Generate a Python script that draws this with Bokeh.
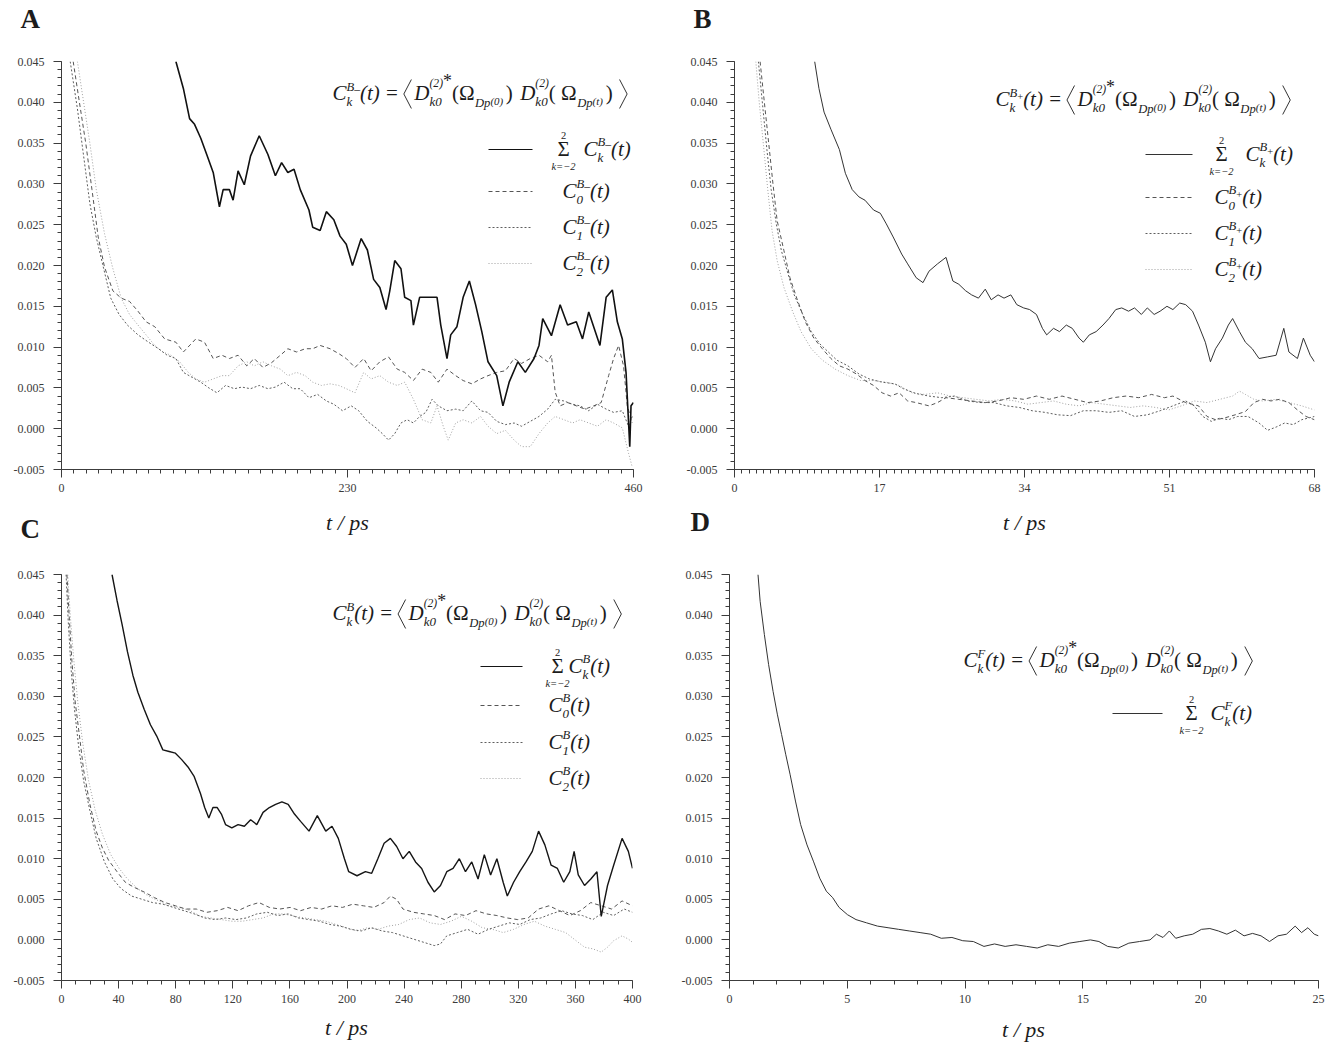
from bokeh.plotting import figure
from bokeh.models import FixedTicker, PrintfTickFormatter, Label, Range1d
from bokeh.layouts import column, row
from bokeh.embed import file_html
from bokeh.resources import INLINE

SERIF = "Liberation Serif"
INK = "#1c1c1c"
PAGE_W, PAGE_H = 1328, 1045

# ---------------------------------------------------------------------------
# Correlation functions; t in ps, C(t) in units of 1e-3
# ---------------------------------------------------------------------------
# Panel A  (B- frame, 460 ps)
a_sum_t = [92, 98, 103, 107, 112, 117, 122, 127, 130, 135, 138, 142, 147, 152, 159, 166, 172, 177, 182, 187,
           192, 199, 202, 208, 213, 219, 224, 229, 234, 241, 246, 251, 256, 261, 264, 268, 273, 276, 281, 283,
           288, 295, 302, 305, 310, 313, 318, 323, 328, 333, 338, 343, 350, 355, 360, 367, 373, 380, 384, 387,
           394, 401, 407, 414, 419, 424, 433, 438, 443, 447, 451, 454, 457, 458, 460]
a_sum_c = [45.0, 41.7, 38.0, 37.3, 35.6, 33.5, 31.4, 27.2, 29.3, 29.3, 28.0, 31.6, 29.9, 33.4, 35.9, 33.6, 31.0, 32.6, 31.4, 31.8,
           29.3, 26.8, 24.7, 24.3, 26.6, 25.6, 23.6, 22.6, 20.0, 23.3, 21.9, 18.3, 17.3, 14.6, 16.9, 20.6, 19.6, 16.1, 15.7, 12.7,
           16.1, 16.1, 16.1, 12.7, 8.6, 11.5, 12.5, 16.1, 18.1, 15.2, 11.9, 8.2, 6.5, 2.8, 5.7, 8.2, 6.9, 8.6, 10.2, 13.5,
           11.4, 15.2, 12.7, 13.1, 11.0, 14.3, 10.2, 16.1, 17.0, 13.1, 11.0, 6.9, -2.2, 2.8, 3.2]
a_c0_t = [9.4, 14.4, 19.5, 24.5, 29.5, 34.6, 41.3, 48, 54.7, 61.5, 68, 75, 83, 92, 98, 108, 115, 122, 129, 135,
          142, 149, 155, 162, 169, 176, 182, 189, 196, 202, 208, 216, 223, 229, 236, 243, 249, 256, 263, 270,
          276, 283, 290, 297, 303, 310, 317, 323, 330, 337, 343, 350, 357, 364, 370, 377, 384, 391, 394, 397,
          401, 407, 414, 421, 428, 434, 440, 444, 448, 452, 455, 459]
a_c0_c = [45, 40, 35, 29.3, 23.5, 19.8, 16.9, 16.0, 15.6, 14.4, 13.1, 12.5, 11.0, 10.6, 9.4, 11.0, 10.6, 8.6, 9.0, 8.6,
          9.0, 7.7, 8.6, 7.5, 8.1, 9.0, 9.8, 9.4, 9.8, 9.8, 10.2, 9.8, 9.2, 8.6, 7.5, 8.6, 7.1, 8.2, 8.8, 7.3,
          6.9, 5.9, 7.3, 6.9, 5.7, 7.3, 6.5, 5.9, 5.5, 6.1, 6.5, 6.9, 7.1, 8.6, 8.0, 8.6, 9.0, 8.2, 9.0, 4.5,
          2.8, 3.2, 2.8, 2.4, 2.8, 3.2, 6.5, 8.6, 10.2, 7.7, 2.8, 0.7]
a_c1_t = [7, 12.8, 17.8, 22.8, 27.9, 33, 39.6, 46.3, 53, 61.5, 70, 78, 85, 92, 98, 105, 112, 118.5, 125, 132,
          139, 145, 152, 159, 166, 172, 179, 186, 192, 199, 206, 213, 219, 226, 233, 239, 246, 253, 258, 263,
          268, 273, 278, 283, 288, 293, 298, 303, 310, 317, 323, 330, 337, 343, 350, 357, 364, 370, 377, 384,
          391, 397, 404, 411, 417, 424, 431, 438, 444, 451, 456, 459]
a_c1_c = [45, 39.2, 33.4, 27.6, 23.5, 20.2, 16.0, 14.0, 12.7, 11.5, 10.6, 9.8, 9.0, 8.6, 6.9, 6.3, 5.7, 5.0, 4.4, 5.3,
          4.9, 5.1, 4.9, 5.3, 4.9, 5.1, 5.7, 4.9, 4.9, 3.8, 4.2, 3.4, 3.0, 2.2, 2.8, 2.2, 0.9, 0.1, -0.6, -1.4,
          -0.6, 0.7, 1.1, 0.7, 1.5, 2.0, 3.6, 2.8, 2.2, 2.4, 2.2, 3.4, 2.2, 2.0, 0.9, 0.5, 0.7, 0.3, 0.9, 1.5,
          2.4, 3.6, 3.4, 3.0, 2.8, 2.2, 3.0, 2.4, 2.0, 2.2, 0.3, 1.5]
a_c2_t = [12.8, 17.8, 22.8, 28, 34.6, 41, 48, 54.7, 61.5, 68, 75, 81.6, 88, 95, 102, 108, 115, 122, 129, 135,
          142, 149, 155, 162, 169, 176, 182, 189, 196, 202, 209, 216, 223, 229, 236, 243, 249, 256, 263, 270,
          276, 283, 290, 297, 302, 307, 311, 317, 323, 330, 337, 343, 350, 357, 364, 370, 377, 384, 391, 397,
          404, 411, 417, 424, 431, 438, 444, 451, 456, 459]
a_c2_c = [45, 40, 35, 29.3, 23.9, 19.8, 16.0, 14.0, 12.7, 11.5, 10.2, 9.4, 9.0, 8.2, 6.9, 6.1, 5.7, 6.1, 6.5, 6.5,
          7.7, 8.2, 7.7, 8.2, 7.7, 7.3, 6.5, 6.9, 6.5, 5.7, 5.3, 5.5, 5.3, 4.9, 4.4, 6.9, 6.1, 6.5, 5.7, 5.3,
          5.7, 3.6, 1.1, 0.7, 2.8, 0.3, -1.4, 0.7, 1.1, 0.7, 1.5, 0.3, -0.6, -0.2, -1.4, -2.2, -2.2, -0.6, 0.7, 1.5,
          1.1, 0.7, 1.1, 0.7, 0.3, 1.1, 0.7, 0.1, -3.0, -4.7]

# Panel B  (B+ frame, 68 ps)
b_sum_t = [9.4, 9.9, 10.5, 11.3, 12.3, 13.0, 13.8, 14.6, 15.3, 16.3, 17.1, 17.8, 18.6, 19.6, 20.3, 21.3, 22.1, 22.8, 23.8, 24.8,
           25.6, 26.3, 27.1, 27.8, 28.6, 29.4, 30.1, 30.9, 31.6, 32.4, 33.1, 33.9, 34.6, 35.4, 36.1, 36.6, 37.4, 38.1, 38.9, 39.6,
           40.4, 40.9, 41.6, 42.4, 43.2, 43.9, 44.7, 45.4, 46.2, 46.9, 47.7, 48.4, 49.2, 49.9, 50.7, 51.4, 52.2, 52.9, 53.7, 54.4,
           55.2, 55.8, 56.4, 57.2, 57.9, 58.4, 59.2, 59.9, 60.7, 61.5, 62.5, 63.5, 64.4, 65.0, 66.0, 66.7, 67.5, 68]
b_sum_c = [45, 41.7, 38.8, 36.7, 34.2, 31.3, 29.3, 28.4, 28.0, 26.8, 26.4, 25.1, 23.5, 21.4, 20.2, 18.5, 17.9, 19.3, 20.2, 21.0,
           18.1, 17.7, 16.9, 16.4, 16.0, 17.1, 15.8, 16.4, 16.0, 16.4, 15.2, 14.8, 14.6, 14.0, 12.3, 11.5, 12.3, 11.9, 12.7, 12.3,
           11.1, 10.6, 11.5, 11.9, 12.7, 13.5, 14.6, 14.8, 14.4, 14.8, 14.0, 14.8, 14.0, 14.4, 15.0, 14.6, 15.4, 15.2, 14.4, 12.7,
           10.6, 8.2, 9.8, 11.1, 12.7, 13.5, 11.9, 10.6, 9.8, 8.6, 8.8, 9.0, 12.3, 9.4, 8.6, 11.1, 9.0, 8.2]
b_c0_t = [3.0, 3.5, 4.0, 4.5, 5.0, 5.8, 6.5, 7.3, 8.3, 9.3, 10.3, 11.3, 12.3, 13.3, 14.3, 15.3, 16.3, 17.3, 18.3, 19.3,
          20.3, 21.3, 22.8, 23.8, 24.8, 26.3, 27.8, 29.4, 30.9, 32.4, 33.9, 35.4, 36.9, 38.4, 39.9, 41.4, 42.9, 44.4, 45.9, 47.4,
          48.9, 50.4, 51.4, 52.9, 54.4, 55.4, 56.4, 57.4, 58.7, 59.9, 60.9, 61.9, 62.9, 63.9, 65.0, 66.0, 67.0, 68]
b_c0_c = [45, 40, 35.1, 30.1, 25.5, 21.8, 18.5, 16.0, 13.1, 11.1, 9.8, 8.6, 7.7, 7.3, 6.7, 5.9, 5.3, 4.4, 4.0, 4.4,
          3.4, 3.2, 2.8, 3.2, 3.8, 3.6, 3.4, 3.2, 3.4, 3.8, 3.6, 4.0, 3.6, 4.0, 3.6, 3.2, 3.4, 3.8, 4.0, 3.8,
          4.2, 3.8, 4.0, 3.2, 2.8, 1.5, 1.1, 1.3, 1.7, 2.1, 3.2, 3.6, 3.4, 3.6, 3.2, 2.3, 1.5, 1.1]
b_c1_t = [2.8, 3.3, 3.8, 4.3, 4.9, 5.5, 6.3, 7.0, 8.0, 9.0, 10.0, 11.0, 12.0, 13.3, 14.6, 15.8, 17.3, 18.8, 19.8, 21.3,
          22.8, 24.3, 25.8, 27.3, 28.9, 30.4, 31.9, 33.4, 34.9, 36.4, 37.9, 39.4, 40.9, 42.4, 43.9, 45.4, 46.9, 48.4, 49.9, 51.4,
          52.9, 53.9, 54.9, 55.9, 56.9, 57.9, 59.0, 60.2, 61.5, 62.5, 63.5, 64.5, 65.5, 66.5, 68]
b_c1_c = [45, 39.6, 34.2, 29.3, 25.1, 21.8, 18.9, 16.4, 14.0, 11.9, 10.4, 9.4, 8.4, 7.7, 6.7, 6.1, 5.7, 5.5, 4.9, 4.3,
          4.0, 3.8, 4.0, 3.4, 3.2, 3.2, 2.8, 2.6, 2.2, 2.0, 1.7, 1.6, 2.2, 2.2, 2.0, 2.2, 1.5, 1.7, 2.2, 2.8,
          3.4, 2.8, 1.5, 0.9, 1.3, 1.1, 1.5, 1.5, 0.7, -0.2, 0.2, 0.7, 0.5, 1.1, 1.5]
b_c2_t = [2.5, 2.9, 3.4, 3.9, 4.4, 5.0, 5.8, 6.8, 7.8, 9.0, 10.3, 11.8, 13.3, 14.8, 16.3, 17.8, 19.3, 20.8, 22.3, 23.8,
          25.3, 26.8, 28.3, 29.9, 31.4, 32.9, 34.4, 35.9, 37.4, 38.9, 40.4, 41.9, 43.4, 44.9, 46.4, 47.9, 49.4, 50.9, 52.4, 53.9,
          55.4, 56.9, 58.4, 59.2, 59.9, 60.9, 61.9, 63.5, 65.0, 66.5, 68]
b_c2_c = [45, 40, 34.7, 29.3, 24.3, 20.6, 17.3, 14.4, 11.9, 9.8, 8.4, 7.3, 6.5, 5.9, 5.9, 5.7, 5.3, 4.4, 4.2, 4.4,
          4.0, 3.8, 3.6, 3.4, 3.6, 3.4, 3.0, 3.2, 3.4, 3.0, 2.8, 3.2, 3.0, 2.8, 2.6, 2.8, 2.6, 2.3, 2.8, 3.4,
          3.2, 3.6, 4.0, 4.6, 4.2, 3.6, 3.4, 3.6, 3.2, 2.8, 2.3]

# Panel C  (B frame, 400 ps)
c_sum_t = [35.4, 38.9, 42.4, 46.2, 50, 53.5, 57.9, 62.3, 66.7, 71, 75.4, 79.8, 84.2, 88.6, 93, 97.4, 100.3, 103.2, 106.1, 109.1,
           112, 114.9, 119.3, 123.7, 128.1, 132.5, 136.8, 141.2, 145.6, 150, 154.4, 158.8, 163.2, 167.5, 173.4, 179.2, 185.1, 189.5, 193.9, 198.2,
           201.2, 207, 212.9, 217.3, 221.6, 226, 230.4, 234.8, 239.2, 243.6, 248, 252.3, 256.7, 261.1, 265.5, 269.9, 274.3, 278.7, 283, 287.4,
           291.8, 296.2, 300.6, 305, 309.4, 312.3, 316.7, 321, 325.4, 329.8, 334.2, 338.6, 343, 347.4, 351.8, 356.1, 359.1, 362, 366.4, 370.8,
           375.1, 378.1, 382.5, 386.8, 392.7, 397.1, 400]
c_sum_c = [45, 41.8, 38.9, 35.5, 32.6, 30.5, 28.4, 26.5, 25.1, 23.4, 23.2, 23.0, 22.2, 21.3, 20.1, 18.0, 16.3, 15.0, 16.3, 16.3,
           15.5, 14.2, 13.8, 14.2, 14.0, 14.8, 14.2, 15.7, 16.3, 16.7, 17.0, 16.7, 15.5, 14.6, 13.4, 15.3, 13.4, 14.0, 12.5, 10.0,
           8.4, 7.9, 8.4, 8.2, 10.0, 11.9, 12.5, 11.5, 10.0, 10.9, 9.6, 8.8, 7.1, 5.9, 6.7, 8.4, 8.8, 10.0, 8.4, 9.6,
           7.5, 10.5, 8.0, 10.0, 7.1, 5.4, 7.1, 8.4, 9.6, 10.9, 13.4, 11.7, 9.2, 8.8, 7.1, 8.4, 10.9, 8.0, 6.7, 7.5,
           8.4, 2.9, 6.7, 9.2, 12.5, 10.9, 8.8]
c_c0_t = [3.8, 5.3, 7.3, 9.6, 12.6, 15.5, 19.9, 24.3, 28.7, 33, 38.9, 44.7, 50.6, 57.9, 65.2, 72.5, 79.8, 87.1, 94.4, 101.8,
          109.1, 116.4, 123.7, 131, 138.3, 145.6, 152.9, 160.2, 167.5, 174.9, 182.2, 189.5, 196.8, 204.1, 211.4, 218.7, 226, 230.4, 234.8, 239.2,
          246.5, 253.8, 261.1, 268.4, 275.7, 283, 290.4, 297.7, 305, 312.3, 319.6, 326.9, 334.2, 341.5, 348.8, 356.1, 363.5, 370.8, 378.1, 385.4,
          392.7, 400]
c_c0_c = [45, 40.1, 34.3, 29.3, 25.1, 20.9, 16.7, 13.4, 11.3, 9.8, 8.4, 7.1, 6.5, 5.9, 5.2, 4.6, 4.2, 3.8, 3.8, 3.4,
          3.6, 4.0, 3.6, 4.2, 4.6, 4.0, 3.8, 4.0, 3.6, 4.0, 3.8, 4.2, 4.0, 4.4, 4.2, 4.0, 4.6, 5.4, 5.0, 3.8,
          3.4, 3.2, 3.0, 2.5, 3.2, 3.0, 3.6, 3.2, 3.0, 2.7, 2.5, 2.7, 3.8, 4.2, 3.6, 3.0, 3.6, 4.6, 4.2, 3.8,
          4.8, 4.2]
c_c1_t = [3.2, 4.7, 6.7, 9.1, 12, 15.5, 19.9, 24.3, 30.1, 36, 41.8, 49.1, 56.4, 63.7, 71, 78.4, 85.7, 93, 100.3, 107.6,
          114.9, 122.2, 129.5, 136.8, 144.2, 151.5, 158.8, 166.1, 173.4, 180.7, 188, 195.3, 202.6, 210, 217.3, 224.6, 231.9, 239.2, 246.5, 253.8,
          261.1, 265.5, 269.9, 277.2, 284.5, 291.8, 299.1, 306.4, 313.7, 321, 328.4, 335.7, 343, 350.3, 357.6, 364.9, 372.2, 379.5, 386.8, 394.2,
          400]
c_c1_c = [45, 39.3, 33.4, 28.4, 23.8, 19.6, 15.9, 12.5, 9.6, 7.5, 6.3, 5.4, 5.0, 4.6, 4.4, 4.0, 3.6, 3.2, 2.7, 2.5,
          2.7, 2.5, 2.7, 3.2, 3.4, 3.0, 3.2, 2.7, 2.5, 2.3, 1.9, 1.7, 1.3, 1.1, 1.5, 1.1, 0.9, 0.5, 0.1, -0.3,
          -0.7, -0.5, 0.5, 0.9, 1.3, 0.7, 1.3, 1.7, 2.1, 1.9, 2.5, 2.7, 3.2, 3.6, 3.2, 3.0, 2.5, 3.4, 3.0, 3.8,
          3.4]
c_c2_t = [4.4, 6.1, 8.5, 11.4, 14.9, 19, 23.7, 28.7, 34.5, 40.4, 46.2, 53.5, 60.8, 68.1, 75.4, 82.7, 90.1, 97.4, 104.7, 112,
          119.3, 126.6, 133.9, 141.2, 148.5, 155.8, 163.2, 170.5, 177.8, 185.1, 192.4, 199.7, 207, 214.3, 221.6, 229, 236.3, 243.6, 250.9, 258.2,
          265.5, 272.8, 280.1, 287.4, 294.7, 302, 309.4, 316.7, 324, 331.3, 338.6, 345.9, 353.2, 360.5, 366.4, 372.2, 378.1, 382.5, 386.8, 392.7,
          397.1, 400]
c_c2_c = [45, 40.1, 34.7, 29.3, 24.2, 19.6, 15.9, 13.0, 10.5, 8.8, 7.5, 6.3, 5.4, 4.8, 4.2, 4.0, 3.6, 2.9, 2.7, 2.5,
          2.3, 2.3, 2.5, 2.7, 3.2, 3.2, 2.9, 2.7, 2.5, 2.3, 1.9, 1.5, 1.1, 1.5, 1.3, 1.7, 1.9, 2.5, 2.7, 2.1,
          1.9, 2.3, 2.9, 2.3, 1.5, 1.3, 0.9, 1.3, 1.9, 2.3, 1.7, 1.3, 0.9, -0.1, -0.9, -1.1, -1.5, -0.9, -0.1, 0.5,
          0.1, -0.3]

# Panel D  (F frame, 25 ps)
d_sum_t = [1.21, 1.3, 1.48, 1.66, 1.85, 2.03, 2.21, 2.39, 2.57, 2.8, 3.02, 3.29, 3.56, 3.83, 4.11, 4.38, 4.65, 5.01, 5.37, 5.82,
           6.28, 6.73, 7.18, 7.63, 8.09, 8.54, 8.99, 9.44, 9.9, 10.35, 10.8, 11.25, 11.7, 12.16, 12.61, 13.06, 13.51, 13.97, 14.42, 14.87,
           15.32, 15.68, 16.05, 16.5, 16.95, 17.4, 17.85, 18.12, 18.4, 18.67, 18.94, 19.3, 19.66, 20.03, 20.39, 20.75, 21.11, 21.47, 21.84, 22.2,
           22.56, 22.92, 23.28, 23.64, 24.01, 24.28, 24.55, 24.82, 25]
d_sum_c = [45, 41.7, 37.6, 33.9, 30.6, 27.8, 25.3, 22.8, 20.4, 17.1, 14.2, 11.7, 9.7, 7.6, 6.0, 5.2, 4.0, 3.1, 2.5, 2.1,
           1.7, 1.5, 1.3, 1.1, 0.9, 0.7, 0.2, 0.3, -0.1, -0.2, -0.8, -0.5, -0.8, -0.6, -0.8, -1.0, -0.6, -0.8, -0.4, -0.2,
           0.0, -0.2, -0.8, -1.0, -0.4, -0.2, 0.0, 0.7, 0.3, 1.1, 0.2, 0.5, 0.7, 1.3, 1.4, 1.1, 0.7, 1.2, 0.5, 0.8,
           0.5, -0.2, 0.5, 0.7, 1.7, 0.9, 1.5, 0.7, 0.5]

# axis ticks
y_major = [round(-0.005 + 0.005 * i, 3) for i in range(11)]
y_minor = [round(-0.005 + 0.001 * i, 3) for i in range(51)]
a_xticks, a_xminor = [0, 230, 460], list(range(0, 461, 10))
b_xticks, b_xminor = [0, 17, 34, 51, 68], [round(0.85 * i, 2) for i in range(81)]
c_xticks, c_xminor = list(range(0, 401, 40)), list(range(0, 401, 10))
d_xticks, d_xminor = list(range(0, 26, 5)), list(range(0, 26))

# line styles: (color, width[, dash])
STY_SUM = {"A": ("#111111", 1.6), "B": ("#333333", 1.0), "C": ("#151515", 1.4), "D": ("#333333", 1.0)}
STY_C0 = ("#555555", 1.0, "4 3")
STY_C1 = ("#5e5e5e", 1.0, "2 2")
STY_C2 = ("#a0a0a0", 1.0, "1 2")

# approximate advance widths (em) of Times-style glyphs
W_IT = {' ': 0.25, '(': 0.333, ')': 0.333, '*': 0.5, '0': 0.5, '1': 0.5, '2': 0.5, '=': 0.675,
        'B': 0.611, 'C': 0.667, 'D': 0.722, 'F': 0.611, 'k': 0.444, 'p': 0.5, 't': 0.278,
        '−': 0.675, '–': 0.5, '+': 0.675}
W_RM = {' ': 0.25, '(': 0.333, ')': 0.333, '*': 0.5, '2': 0.5, '0': 0.5, '=': 0.564,
        'Ω': 0.768, 'Σ': 0.6, '−': 0.564, '–': 0.5, '+': 0.564}
FONTS = {"i": ("italic", W_IT), "r": ("normal", W_RM)}


def make_panel(ox, oy, w, h, L, R, T, B, xmax, xticks, xminor):
    p = figure(width=w, height=h, x_range=Range1d(0, xmax), y_range=Range1d(-0.005, 0.045),
               output_backend="svg", toolbar_location=None, title=None,
               min_border_left=L - ox, min_border_right=ox + w - R,
               min_border_top=T - oy, min_border_bottom=oy + h - B)
    p.outline_line_color = None
    p.xgrid.visible = False
    p.ygrid.visible = False
    p.background_fill_color = "white"
    p.border_fill_color = "white"
    for ax in (p.xaxis[0], p.yaxis[0]):
        ax.axis_line_color = "#3c3c3c"
        ax.major_tick_line_color = "#3c3c3c"
        ax.minor_tick_line_color = "#3c3c3c"
        ax.major_tick_out = 8
        ax.major_tick_in = 0
        ax.minor_tick_out = 4
        ax.minor_tick_in = 0
        ax.major_label_text_font = SERIF
        ax.major_label_text_font_size = "12px"
        ax.major_label_text_color = "#3a3a3a"
    p.xaxis.ticker = FixedTicker(ticks=xticks, minor_ticks=xminor)
    p.yaxis.ticker = FixedTicker(ticks=y_major, minor_ticks=y_minor)
    p.yaxis.formatter = PrintfTickFormatter(format="%.3f")
    p.xaxis.major_label_standoff = 6
    p.yaxis.major_label_standoff = 9
    return p


def series(p, t, c, sty):
    y = [v / 1000.0 for v in c]
    if len(sty) == 2:
        p.line(t, y, line_color=sty[0], line_width=sty[1])
    else:
        p.line(t, y, line_color=sty[0], line_width=sty[1], line_dash=sty[2])


COL1, ROW1 = 665, 540
pA = make_panel(0, 0, COL1, ROW1, 61, 633, 61, 469, 460, a_xticks, a_xminor)
pB = make_panel(COL1, 0, PAGE_W - COL1, ROW1, 734, 1314, 61, 469, 68, b_xticks, b_xminor)
pC = make_panel(0, ROW1, COL1, PAGE_H - ROW1, 61, 632, 574, 980, 400, c_xticks, c_xminor)
pD = make_panel(COL1, ROW1, PAGE_W - COL1, PAGE_H - ROW1, 729, 1318, 569, 984, 25, d_xticks, d_xminor)

series(pA, a_c2_t, a_c2_c, STY_C2)
series(pA, a_c1_t, a_c1_c, STY_C1)
series(pA, a_c0_t, a_c0_c, STY_C0)
series(pA, a_sum_t, a_sum_c, STY_SUM["A"])
series(pB, b_c2_t, b_c2_c, STY_C2)
series(pB, b_c1_t, b_c1_c, STY_C1)
series(pB, b_c0_t, b_c0_c, STY_C0)
series(pB, b_sum_t, b_sum_c, STY_SUM["B"])
series(pC, c_c2_t, c_c2_c, STY_C2)
series(pC, c_c1_t, c_c1_c, STY_C1)
series(pC, c_c0_t, c_c0_c, STY_C0)
series(pC, c_sum_t, c_sum_c, STY_SUM["C"])
series(pD, d_sum_t, d_sum_c, STY_SUM["D"])

# ---------------------------------------------------------------------------
# Transparent page-sized layer for the formulas, legends, axis titles and
# panel letters (coordinates in page pixels, y downward)
# ---------------------------------------------------------------------------
ov = figure(width=PAGE_W, height=PAGE_H, x_range=Range1d(0, PAGE_W), y_range=Range1d(PAGE_H, 0),
            output_backend="svg", toolbar_location=None, title=None, min_border=0,
            x_axis_type=None, y_axis_type=None)
ov.outline_line_color = None
ov.xgrid.visible = False
ov.ygrid.visible = False
ov.background_fill_alpha = 0
ov.border_fill_alpha = 0
ov.margin = (-PAGE_H, 0, 0, 0)


def put_text(px, py, text, size, style="i", align="left", color=INK, bold=False):
    # py is the baseline; labels are anchored at the middle of the em box
    fstyle = "bold" if bold else FONTS[style][0]
    ov.add_layout(Label(x=px, y=py - 0.34 * size, text=text, text_font=SERIF, text_font_style=fstyle,
                        text_font_size=f"{size:.1f}px", text_color=color,
                        text_align=align, text_baseline="middle"))


def R(text, scale=1.0, rise=0.0, style="i"):
    return ("run", text, scale, rise, style)


def ST(top, bottom):
    return ("stack", top, bottom)


def G(em):
    return ("gap", em)


def BR(side):
    return ("bracket", side)


def run_width(r, S):
    _, text, scale, _, style = r
    tab = FONTS[style][1]
    return sum(tab.get(ch, 0.5) for ch in text) * S * scale


def bracket(x, base, S, side):
    w, top, bot = 0.36 * S, base - 1.0 * S, base + 0.38 * S
    mid = (top + bot) / 2
    if side == "<":
        xs = [x + w, x, x + w]
    else:
        xs = [x, x + w, x]
    ov.line(xs, [top, mid, bot], line_color=INK, line_width=0.9)


def draw_math(px, base, S, items):
    x = px
    for it in items:
        if it[0] == "gap":
            x += it[1] * S
        elif it[0] == "bracket":
            x += 0.08 * S
            bracket(x, base, S, it[1])
            x += 0.5 * S
        elif it[0] == "stack":
            widths = []
            for seq in (it[1], it[2]):
                xx = x
                for r in seq:
                    put_text(xx, base - r[3] * S, r[1], S * r[2], r[4])
                    xx += run_width(r, S)
                widths.append(xx - x)
            x += max(widths)
        else:
            put_text(x, base - it[3] * S, it[1], S * it[2], it[4])
            x += run_width(it, S)
    return x


def sub_k(text):
    return [R(text, 0.62, -0.28)]


def equation(sup):
    return [R("C"), ST(sup, sub_k("k")), R("(t)"), G(0.3), R("=", 1, 0, "r"), G(0.2),
            BR("<"),
            R("D"), ST([R("(2)", 0.55, 0.6), R("*", 0.85, 0.62, "r")], sub_k("k0")),
            R("(", 1, 0, "r"), R("Ω", 1, 0, "r"), R("Dp", 0.6, -0.3), R(" (0)", 0.52, -0.22), R(")", 1, 0, "r"),
            G(0.35),
            R("D"), ST([R("(2)", 0.55, 0.6)], sub_k("k0")),
            R(" (", 1, 0, "r"), R("Ω", 1, 0, "r"), R("Dp", 0.6, -0.3), R(" (t)", 0.52, -0.22), R(" )", 1, 0, "r"),
            BR(">")]


def legend(S, sup, x_line, x_sigma, x_ck, x_cn, rows, entries):
    for ly, (sty, sub) in zip(rows, entries):
        if len(sty) == 2:
            ov.line(list(x_line), [ly, ly], line_color=sty[0], line_width=1.0)
        else:
            ov.line(list(x_line), [ly, ly], line_color=sty[0], line_width=sty[1], line_dash=sty[2])
        base = ly + 0.32 * S
        if sub is None:
            put_text(x_sigma, base, "Σ", S * 1.0, "r", align="center")
            put_text(x_sigma, ly - 0.52 * S, "2", S * 0.5, "r", align="center")
            put_text(x_sigma, ly + 1.0 * S, "k=−2", S * 0.5, "i", align="center")
            draw_math(x_ck, base, S, [R("C"), ST(sup, sub_k("k")), R("(t)")])
        else:
            draw_math(x_cn, base, S, [R("C"), ST(sup, sub_k(sub)), R("(t)")])


def four(k):
    return [(STY_SUM[k], None), (STY_C0, "0"), (STY_C1, "1"), (STY_C2, "2")]


S = 21
sup_minus = [R("B", 0.6, 0.45), R("–", 0.55, 0.36, "r")]
sup_plus = [R("B", 0.6, 0.45), R("+", 0.5, 0.3, "r")]
sup_b = [R("B", 0.6, 0.45)]
sup_f = [R("F", 0.6, 0.45)]

draw_math(332, 100, S, equation(sup_minus))
legend(S, sup_minus, (488, 532), 563, 583, 562, [149, 191, 227, 263], four("A"))
draw_math(995, 106, S, equation(sup_plus))
legend(S, sup_plus, (1145, 1192), 1221, 1245, 1214, [154, 197, 233, 269], four("B"))
draw_math(332, 620, S, equation(sup_b))
legend(S, sup_b, (480, 522), 557, 568, 548, [666, 705, 742, 778], four("C"))
draw_math(963, 667, S, equation(sup_f))
legend(S, sup_f, (1112, 1162), 1191, 1210, 1210, [713], [(STY_SUM["D"], None)])

# axis titles
put_text(347, 529, "t / ps", 22, "i", align="center")
put_text(1024, 529, "t / ps", 22, "i", align="center")
put_text(346, 1034, "t / ps", 22, "i", align="center")
put_text(1023, 1036, "t / ps", 22, "i", align="center")

# panel letters
put_text(20, 28, "A", 27, "r", bold=True)
put_text(693, 28, "B", 27, "r", bold=True)
put_text(20, 538, "C", 27, "r", bold=True)
put_text(690, 531, "D", 27, "r", bold=True)

layout = column(row(pA, pB), row(pC, pD), ov)
open("out.html", "w").write(file_html(layout, INLINE))
